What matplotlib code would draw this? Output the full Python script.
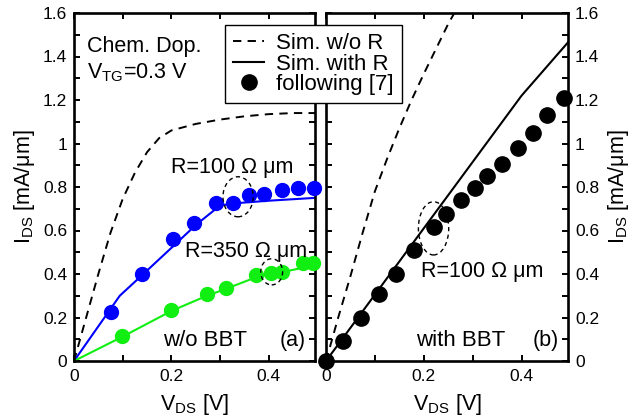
import matplotlib
matplotlib.use("Agg")
import matplotlib.pyplot as plt
from matplotlib.patches import Ellipse
from matplotlib.lines import Line2D
import numpy as np

plt.rcParams['font.family'] = ['Liberation Sans', 'DejaVu Sans']
plt.rcParams['mathtext.default'] = 'regular'
plt.rcParams['lines.scale_dashes'] = False

# ---- data: panel (a) w/o BBT ----
dash_a_v = [0, 0.025, 0.05, 0.075, 0.1, 0.125, 0.15, 0.175, 0.2, 0.25, 0.3, 0.35, 0.4, 0.45, 0.495]
dash_a_i = [0, 0.2, 0.4, 0.59, 0.745, 0.865, 0.96, 1.025, 1.06, 1.09, 1.11, 1.125, 1.135, 1.14, 1.14]

blue_line_v = [0, 0.094, 0.14, 0.2, 0.25, 0.3, 0.33, 0.4, 0.495]
blue_line_i = [0, 0.30, 0.395, 0.52, 0.625, 0.715, 0.725, 0.737, 0.75]
blue_v = [0.075, 0.14, 0.203, 0.247, 0.292, 0.326, 0.36, 0.39, 0.427, 0.46, 0.493]
blue_i = [0.225, 0.40, 0.56, 0.635, 0.725, 0.725, 0.765, 0.77, 0.785, 0.795, 0.795]

green_line_v = [0, 0.098, 0.2, 0.273, 0.31, 0.374, 0.43, 0.495]
green_line_i = [0, 0.11, 0.23, 0.3, 0.33, 0.385, 0.41, 0.44]
green_v = [0.098, 0.2, 0.273, 0.312, 0.374, 0.404, 0.427, 0.47, 0.49]
green_i = [0.115, 0.235, 0.31, 0.335, 0.395, 0.404, 0.41, 0.45, 0.45]

# ---- data: panel (b) with BBT ----
dash_b_v = [0, 0.025, 0.05, 0.075, 0.1, 0.125, 0.15, 0.175, 0.2, 0.25, 0.27]
dash_b_i = [0, 0.2, 0.39, 0.59, 0.78, 0.93, 1.07, 1.2, 1.32, 1.55, 1.63]

solid_b_v = [0, 0.1, 0.2, 0.3, 0.4, 0.495]
solid_b_i = [0, 0.305, 0.61, 0.915, 1.22, 1.465]

black_v = [0, 0.035, 0.072, 0.109, 0.144, 0.18, 0.22, 0.246, 0.276, 0.304, 0.33, 0.36, 0.392, 0.423, 0.453, 0.486]
black_i = [0, 0.09, 0.20, 0.31, 0.40, 0.51, 0.615, 0.675, 0.74, 0.795, 0.85, 0.905, 0.98, 1.05, 1.13, 1.21]

x_ticks = [0, 0.1, 0.2, 0.3, 0.4]
x_labels = ['0', '', '0.2', '', '0.4']
y_ticks = [0, 0.1, 0.2, 0.3, 0.4, 0.5, 0.6, 0.7, 0.8, 0.9, 1.0, 1.1, 1.2, 1.3, 1.4, 1.5, 1.6]
y_labels = ['0', '', '0.2', '', '0.4', '', '0.6', '', '0.8', '', '1', '', '1.2', '', '1.4', '', '1.6']

BLUE = '#0000ff'
GREEN = '#11ee11'
TXT = 15.5
TICK = 12.5

fig = plt.figure(figsize=(6.37, 4.18), dpi=100)
W, H = 637, 418
axa = fig.add_axes([74 / W, 1 - 361 / H, 241 / W, 348 / H])
axb = fig.add_axes([326 / W, 1 - 361 / H, 242 / W, 348 / H])

DASH = (0, (6, 4.5))
for ax in (axa, axb):
    ax.set_xlim(0, 0.495)
    ax.set_ylim(0, 1.6)
    ax.set_xticks(x_ticks)
    ax.set_xticklabels(x_labels)
    ax.set_yticks(y_ticks)
    ax.set_yticklabels(y_labels)
    ax.tick_params(direction='in', length=4.5, width=1.4, top=True, bottom=True,
                   left=True, right=True, labelsize=TICK, pad=5)
    ax.tick_params(axis='x', pad=6)
    for s in ax.spines.values():
        s.set_linewidth(1.9)
    ax.set_xlabel('V$_{DS}$ [V]', fontsize=TXT, labelpad=5.5)

axb.tick_params(labelleft=False, labelright=True)
axa.set_ylabel('I$_{DS}$ [mA/μm]', fontsize=TXT, labelpad=4)
axb.yaxis.set_label_position('right')
axb.set_ylabel('I$_{DS}$ [mA/μm]', fontsize=TXT, labelpad=5, rotation=90)

# panel (a)
axa.plot(dash_a_v, dash_a_i, color='black', lw=1.4, linestyle=DASH)
axa.plot(blue_line_v, blue_line_i, color=BLUE, lw=1.5)
axa.plot(green_line_v, green_line_i, color=GREEN, lw=1.5)
axa.plot(blue_v, blue_i, 'o', color=BLUE, ms=10, clip_on=False, zorder=3)
axa.plot(green_v, green_i, 'o', color=GREEN, ms=10, clip_on=False, zorder=3)
axa.add_patch(Ellipse((0.337, 0.755), 0.062, 0.184, fill=False, ec='black', lw=1.0,
                      linestyle=(0, (3, 2.5)), zorder=4))
axa.add_patch(Ellipse((0.406, 0.41), 0.045, 0.12, fill=False, ec='black', lw=1.0,
                      linestyle=(0, (3, 2.5)), zorder=4))
axa.text(0.027, 1.445, 'Chem. Dop.', fontsize=TXT, va='center', ha='left')
axa.text(0.027, 1.325, 'V$_{TG}$=0.3 V', fontsize=TXT, va='center', ha='left')
axa.text(0.325, 0.865, 'R=100 Ω μm', fontsize=TXT, ha='center', va='baseline')
axa.text(0.353, 0.48, 'R=350 Ω μm', fontsize=TXT, ha='center', va='baseline')
axa.text(0.27, 0.07, 'w/o BBT', fontsize=TXT + 0.5, ha='center', va='baseline')
axa.text(0.449, 0.07, '(a)', fontsize=TXT, ha='center', va='baseline')

# panel (b)
axb.plot(dash_b_v, dash_b_i, color='black', lw=1.4, linestyle=DASH)
axb.plot(solid_b_v, solid_b_i, color='black', lw=1.5)
axb.plot(black_v, black_i, 'o', color='black', ms=11, clip_on=False, zorder=5)
axb.add_patch(Ellipse((0.22, 0.61), 0.062, 0.245, fill=False, ec='black', lw=1.0,
                      linestyle=(0, (3, 2.5)), zorder=4))
axb.text(0.32, 0.385, 'R=100 Ω μm', fontsize=TXT, ha='center', va='baseline')
axb.text(0.275, 0.07, 'with BBT', fontsize=TXT + 0.5, ha='center', va='baseline')
axb.text(0.449, 0.07, '(b)', fontsize=TXT, ha='center', va='baseline')

handles = [Line2D([], [], color='black', lw=1.4, linestyle=DASH),
           Line2D([], [], color='black', lw=1.5),
           Line2D([], [], color='black', marker='o', ms=11, linestyle='none')]
labels = ['Sim. w/o R', 'Sim. with R', 'following [7]']
leg = fig.legend(handles, labels, loc='upper left', bbox_to_anchor=(225 / W, 1 - 25 / H),
                 bbox_transform=fig.transFigure, borderaxespad=0, fontsize=16,
                 frameon=True, fancybox=False, edgecolor='black', framealpha=1,
                 handlelength=1.4, handletextpad=0.55, labelspacing=-0.02, borderpad=0.36)
leg.get_frame().set_linewidth(1.0)
leg.set_zorder(10)

fig.savefig('out.png', dpi=100)
